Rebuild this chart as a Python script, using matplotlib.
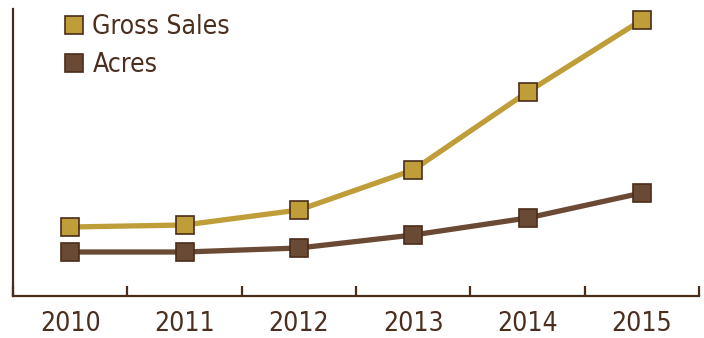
import matplotlib.pyplot as plt
from matplotlib import font_manager
from matplotlib.lines import Line2D

years = ["2010", "2011", "2012", "2013", "2014", "2015"]
gross_sales = [69, 71, 86, 126, 204, 276]
acres = [44, 44, 48, 61, 78, 103]

GOLD = "#BF9E3A"
BROWN = "#6B4A35"
EDGE = "#4A2C19"
TEXT = "#4B2E1E"

# condensed face if one is around, otherwise DejaVu condensed stretch
names = {f.name for f in font_manager.fontManager.ttflist}
if "Liberation Sans Narrow" in names:
    plt.rcParams["font.family"] = "Liberation Sans Narrow"
else:
    plt.rcParams["font.family"] = "DejaVu Sans"
    plt.rcParams["font.stretch"] = "condensed"

fig = plt.figure(figsize=(7.04, 3.38), dpi=100)
ax = fig.add_axes([13 / 704, 42 / 338, 686 / 704, 287 / 338])

x = list(range(len(years)))
ax.plot(x, gross_sales, color=GOLD, lw=3.8, marker="s", ms=12.5,
        mfc=GOLD, mec=EDGE, mew=1.2, zorder=3)
ax.plot(x, acres, color=BROWN, lw=3.8, marker="s", ms=12.5,
        mfc=BROWN, mec=EDGE, mew=1.2, zorder=3)

ax.set_xlim(-0.5, len(years) - 0.5)
ax.set_ylim(0, 287)

for side in ["top", "right"]:
    ax.spines[side].set_visible(False)
for side in ["left", "bottom"]:
    ax.spines[side].set_color(EDGE)
    ax.spines[side].set_linewidth(1.6)

ax.set_yticks([])
ax.set_xticks(x)
ax.set_xticklabels(years, fontsize=19, color=TEXT)
ax.set_xticks([i - 0.5 for i in range(len(years) + 1)], minor=True)
ax.tick_params(axis="x", which="major", length=0, pad=11)
ax.tick_params(axis="x", which="minor", direction="in", length=7.5,
               width=1.6, color=EDGE)

handles = [
    Line2D([], [], ls="none", marker="s", ms=12.5, mfc=GOLD, mec=EDGE, mew=1.2),
    Line2D([], [], ls="none", marker="s", ms=12.5, mfc=BROWN, mec=EDGE, mew=1.2),
]
leg = ax.legend(handles, ["Gross Sales", "Acres"], loc="upper left",
                bbox_to_anchor=(0.058, 1.02), frameon=False, fontsize=19,
                handlelength=0.8, handletextpad=0.3, labelspacing=0.48,
                borderaxespad=0)
for t in leg.get_texts():
    t.set_color(TEXT)

fig.savefig("out.png", dpi=100)
